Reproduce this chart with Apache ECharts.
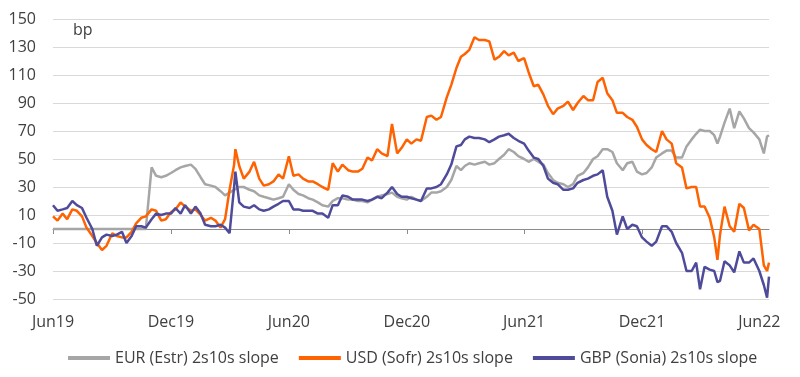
<!DOCTYPE html>
<html>
<head>
<meta charset="utf-8">
<script src="https://cdn.jsdelivr.net/npm/echarts@6/dist/echarts.min.js"></script>
<style>
  html, body { margin: 0; padding: 0; background: #fff; }
  #chart { width: 800px; height: 377px; }
</style>
</head>
<body>
<div id="chart"></div>
<script>
// sample dates (roughly weekly), one row per month
var dates = [
  '2019-06-01','2019-06-08','2019-06-16','2019-06-23',
  '2019-07-01','2019-07-08','2019-07-16','2019-07-23',
  '2019-08-01','2019-08-08','2019-08-16','2019-08-23',
  '2019-09-01','2019-09-08','2019-09-16','2019-09-23',
  '2019-10-01','2019-10-08','2019-10-16','2019-10-23',
  '2019-11-01','2019-11-08','2019-11-16','2019-11-23',
  '2019-12-01','2019-12-08','2019-12-16','2019-12-23',
  '2020-01-01','2020-01-08','2020-01-16','2020-01-23',
  '2020-02-01','2020-02-08','2020-02-16','2020-02-23',
  '2020-03-01','2020-03-08','2020-03-10','2020-03-16','2020-03-23',
  '2020-04-01','2020-04-08','2020-04-16','2020-04-23',
  '2020-05-01','2020-05-08','2020-05-16','2020-05-23',
  '2020-06-01','2020-06-08','2020-06-16','2020-06-23',
  '2020-07-01','2020-07-08','2020-07-16','2020-07-23',
  '2020-08-01','2020-08-08','2020-08-16','2020-08-23',
  '2020-09-01','2020-09-08','2020-09-16','2020-09-23',
  '2020-10-01','2020-10-08','2020-10-16','2020-10-23',
  '2020-11-01','2020-11-08','2020-11-16','2020-11-23',
  '2020-12-01','2020-12-08','2020-12-16','2020-12-23',
  '2021-01-01','2021-01-08','2021-01-16','2021-01-23',
  '2021-02-01','2021-02-08','2021-02-16','2021-02-23',
  '2021-03-01','2021-03-08','2021-03-16','2021-03-23',
  '2021-04-01','2021-04-08','2021-04-16','2021-04-23',
  '2021-05-01','2021-05-08','2021-05-16','2021-05-23',
  '2021-06-01','2021-06-08','2021-06-16','2021-06-23',
  '2021-07-01','2021-07-08','2021-07-16','2021-07-23',
  '2021-08-01','2021-08-08','2021-08-16','2021-08-23',
  '2021-09-01','2021-09-08','2021-09-16','2021-09-23',
  '2021-10-01','2021-10-08','2021-10-16','2021-10-23',
  '2021-11-01','2021-11-08','2021-11-16','2021-11-23',
  '2021-12-01','2021-12-08','2021-12-16','2021-12-23',
  '2022-01-01','2022-01-08','2022-01-16','2022-01-23',
  '2022-02-01','2022-02-08','2022-02-16','2022-02-23',
  '2022-03-01','2022-03-08','2022-03-16','2022-03-23','2022-03-28',
  '2022-04-01','2022-04-08','2022-04-16','2022-04-23',
  '2022-05-01','2022-05-08','2022-05-16','2022-05-23',
  '2022-06-01','2022-06-08','2022-06-13','2022-06-16'
];

var eurEstr = [
  0,0,0,0,  0,0,0,0,  0,0,0,0,  0,0,0,0,  0,0,0,0,
  44,38,37,38,  40,42,44,45,
  46,43,37,32,  31,30,27,24,  26,28,29,30,30,  28,27,24,23,  22,21,22,23,
  32,28,25,24,  22,21,19,17,  16,20,22,22,  21,21,20,20,  19,21,23,24,
  25,26,23,22,  21,23,21,20,
  23,26,26,27,  30,35,45,42,  45,47,46,47,  48,46,47,50,  53,57,55,52,
  50,48,50,48,  46,40,35,33,  32,30,32,38,  40,44,50,52,  57,57,55,47,
  42,47,48,41,  39,40,44,51,
  54,56,56,51,  51,59,64,68,  71,70,70,67,61,  66,76,86,72,  84,79,72,69,
  64,54,66,67
];

var usdSofr = [
  9,6,11,7,  14,13,9,1,  -5,-10,-15,-12,  -3,-5,-6,-6,  -2,4,8,9,
  14,13,6,7,  12,14,19,16,
  13,14,10,6,  8,6,1,7,  28,46,57,45,36,  41,48,36,31,  32,34,39,36,
  52,38,39,36,  34,34,32,30,  28,47,41,46,  42,41,41,43,  51,49,57,54,
  52,75,54,58,  64,61,64,63,
  80,81,78,80,  94,103,115,123,  125,128,137,135,  135,134,121,123,  127,124,126,120,
  122,112,102,103,  96,88,82,86,  88,91,85,90,  95,92,92,105,  108,97,92,83,
  83,80,78,73,  64,60,57,55,
  70,64,61,47,  44,29,30,30,  16,16,8,-6,-22,  -4,16,2,-2,  18,15,-1,3,
  0,-26,-30,-24
];

var gbpSonia = [
  17,13,14,15,  20,17,15,8,  0,-12,-6,-4,  -5,-4,-2,-10,  -5,2,2,1,
  7,11,10,11,  11,15,11,17,
  11,16,11,3,  2,2,3,1,  -3,30,41,19,16,  15,17,14,13,  14,16,18,20,
  20,14,14,13,  13,13,11,11,  8,17,17,24,  23,21,21,21,  20,21,23,22,
  26,30,25,23,  23,22,21,20,
  29,29,30,32,  39,46,59,60,  64,66,65,65,  64,62,64,66,  67,68,65,63,
  61,56,51,50,  45,36,33,32,  28,28,29,33,  35,36,38,39,  42,23,13,-4,
  9,0,3,2,  -6,-9,-12,-9,
  2,2,-2,-10,  -17,-30,-30,-24,  -43,-27,-29,-30,-38,  -37,-23,-26,-31,  -16,-24,-24,-21,
  -30,-40,-49,-34
];

var tickDates = ['2019-06-01','2019-12-01','2020-06-01','2020-12-01','2021-06-01','2021-12-01','2022-06-01'];
var tickLabels = ['Jun19','Dec19','Jun20','Dec20','Jun21','Dec21','Jun22'];

var seriesNames = ['EUR (Estr) 2s10s slope', 'USD (Sofr) 2s10s slope', 'GBP (Sonia) 2s10s slope'];
var colors = ['#a6a6a6', '#ff6200', '#4f4b9b'];

function toTime(d) {
    return new Date(d + 'T00:00:00').getTime();
}
var tickTimes = tickDates.map(toTime);
var xMin = toTime('2019-06-01');
var xMax = toTime('2022-06-16');

function pairs(values) {
    return dates.map(function (d, i) { return [toTime(d), values[i]]; });
}

var chart = echarts.init(document.getElementById('chart'));
var textColor = '#404040';
var fontFamily = '"Open Sans", "Liberation Sans", Arial, sans-serif';

var option = {
    animation: false,
    backgroundColor: '#fff',
    textStyle: { fontFamily: fontFamily },
    grid: { left: 53, right: 31, top: 19, bottom: 78 },
    legend: {
        left: 63,
        top: 345,
        icon: 'rect',
        itemWidth: 42,
        itemHeight: 4,
        itemGap: 20,
        textStyle: { fontSize: 16, color: textColor, fontFamily: fontFamily },
        data: seriesNames
    },
    graphic: [{
        type: 'text',
        left: 73,
        top: 22,
        style: { text: 'bp', fontSize: 16, fill: textColor, fontFamily: fontFamily }
    }],
    xAxis: [{
        // axis line on zero, ticks only
        type: 'value',
        min: xMin,
        max: xMax,
        axisLine: { onZero: true, lineStyle: { color: '#8c8c8c', width: 1 } },
        axisTick: { show: true, length: 5, customValues: tickTimes, lineStyle: { color: '#8c8c8c' } },
        axisLabel: { show: false },
        splitLine: { show: false }
    }, {
        // date labels along the bottom
        type: 'value',
        position: 'bottom',
        min: xMin,
        max: xMax,
        axisLine: { show: false, onZero: false },
        axisTick: { show: false },
        splitLine: { show: false },
        axisLabel: {
            show: true,
            margin: 15,
            fontSize: 16,
            color: textColor,
            fontFamily: fontFamily,
            customValues: tickTimes,
            formatter: function (v) {
                var i = tickTimes.indexOf(v);
                return i >= 0 ? tickLabels[i] : '';
            }
        }
    }],
    yAxis: {
        type: 'value',
        min: -50,
        max: 150,
        interval: 20,
        axisLine: { show: false },
        axisTick: { show: false },
        axisLabel: { fontSize: 16, color: textColor, margin: 17, fontFamily: fontFamily },
        splitLine: { lineStyle: { color: '#d9d9d9', width: 1 } }
    },
    series: [
        {
            name: seriesNames[0], type: 'line', xAxisIndex: 0, showSymbol: false,
            color: colors[0], lineStyle: { width: 2.5, color: colors[0] },
            data: pairs(eurEstr)
        },
        {
            name: seriesNames[1], type: 'line', xAxisIndex: 0, showSymbol: false,
            color: colors[1], lineStyle: { width: 2.5, color: colors[1] },
            data: pairs(usdSofr)
        },
        {
            name: seriesNames[2], type: 'line', xAxisIndex: 0, showSymbol: false,
            color: colors[2], lineStyle: { width: 2.5, color: colors[2] },
            data: pairs(gbpSonia)
        }
    ]
};

chart.setOption(option);
</script>
</body>
</html>
